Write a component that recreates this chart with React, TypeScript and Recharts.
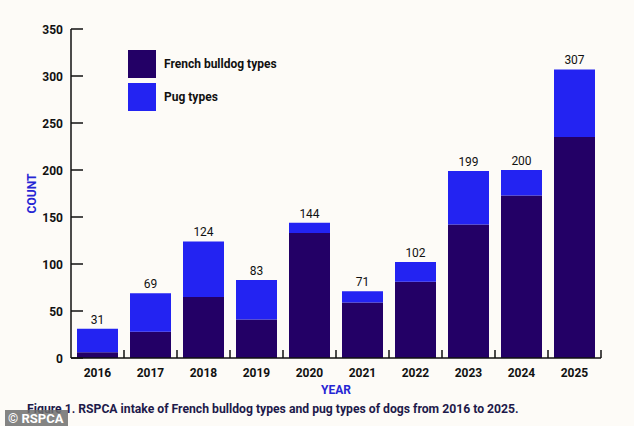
import { BarChart, Bar, XAxis, YAxis, LabelList } from 'recharts';

// Values (stack heights estimated, totals from labels)
const YEARS = ['2016', '2017', '2018', '2019', '2020', '2021', '2022', '2023', '2024', '2025'];
const FRENCH_BULLDOG = [6, 28, 65, 41, 133, 59, 81, 142, 173, 235];
const PUG = [25, 41, 59, 42, 11, 12, 21, 57, 27, 72];
const TOTALS = [31, 69, 124, 83, 144, 71, 102, 199, 200, 307];
const Y_TICKS = [0, 50, 100, 150, 200, 250, 300, 350];
const SERIES_NAMES = ['French bulldog types', 'Pug types'];

const DARK = '#230066';
const BLUE = '#2323f2';
const LABEL_BLUE = '#2626d4';
const BG = '#fdfbf7';
const FONT = 'Roboto, "Noto Sans", sans-serif';

const BAND = 53; // width of one category band in px

const chartData = YEARS.map((year, i) => ({
  year,
  french: FRENCH_BULLDOG[i],
  pug: PUG[i],
  total: TOTALS[i],
}));

const YTick = ({ x, y, payload }: any) => (
  <g>
    <text x={x} y={y} dy={4.5} textAnchor="end" fontSize={12} fontWeight={700} fill="#111" fontFamily={FONT}>
      {payload.value}
    </text>
    <line x1={x + 8} x2={x + 20} y1={y} y2={y} stroke="#111" strokeWidth={1.5} />
  </g>
);

const XTick = ({ x, y, payload }: any) => (
  <g>
    <text x={x} y={y + 18.5} textAnchor="middle" fontSize={12} fontWeight={700} fill="#111" fontFamily={FONT}>
      {payload.value}
    </text>
    <line x1={x + BAND / 2} x2={x + BAND / 2} y1={y - 8} y2={y} stroke="#111" strokeWidth={1.5} />
  </g>
);

// legend drawn outside the chart so it doesn't eat into the plot area
const LegendBox = () => (
  <div
    style={{
      position: 'absolute',
      left: 128,
      top: 50,
      fontFamily: FONT,
      fontSize: 12,
      fontWeight: 700,
      color: '#111',
    }}
  >
    {[DARK, BLUE].map((color, i) => (
      <div key={color} style={{ display: 'flex', alignItems: 'center', marginBottom: 5 }}>
        <div style={{ width: 28, height: 28, background: color, marginRight: 8 }} />
        <span>{SERIES_NAMES[i]}</span>
      </div>
    ))}
  </div>
);

export default function App() {
  return (
    <div style={{ position: 'absolute', left: 0, top: 0, width: 634, height: 426, background: BG, overflow: 'hidden' }}>
      <BarChart
        width={634}
        height={426}
        data={chartData}
        margin={{ top: 29, right: 33, left: 0, bottom: 0 }}
        barSize={41}
      >
        <XAxis
          dataKey="year"
          height={68}
          tickLine={false}
          tickSize={0}
          tickMargin={0}
          axisLine={{ stroke: '#111', strokeWidth: 1.5 }}
          tick={<XTick />}
          interval={0}
          label={{ value: 'YEAR', position: 'center', dy: -2, fill: LABEL_BLUE, fontSize: 12, fontWeight: 700, fontFamily: FONT }}
        />
        <YAxis
          width={71}
          domain={[0, 350]}
          ticks={Y_TICKS}
          tickLine={false}
          tickSize={0}
          tickMargin={8}
          axisLine={{ stroke: '#111', strokeWidth: 1.5 }}
          tick={<YTick />}
          label={{ value: 'COUNT', angle: -90, position: 'center', dx: -3.5, fill: LABEL_BLUE, fontSize: 12, fontWeight: 700, fontFamily: FONT }}
        />
        <Bar dataKey="french" name={SERIES_NAMES[0]} stackId="a" fill={DARK} isAnimationActive={false} />
        <Bar dataKey="pug" name={SERIES_NAMES[1]} stackId="a" fill={BLUE} isAnimationActive={false}>
          <LabelList dataKey="total" position="top" offset={5} fill="#111" fontSize={12} fontFamily={FONT} />
        </Bar>
      </BarChart>
      <LegendBox />
      <div
        style={{
          position: 'absolute',
          left: 27,
          top: 402,
          fontFamily: FONT,
          fontSize: 12.2,
          fontWeight: 700,
          color: '#1d1a4a',
          whiteSpace: 'nowrap',
        }}
      >
        Figure 1. RSPCA intake of French bulldog types and pug types of dogs from 2016 to 2025.
      </div>
      <div
        style={{
          position: 'absolute',
          left: 5,
          top: 410,
          width: 63,
          height: 16,
          background: 'rgba(110,110,110,0.85)',
          color: '#fff',
          fontFamily: FONT,
          fontSize: 13,
          fontWeight: 700,
          lineHeight: '17px',
          paddingLeft: 3,
          boxSizing: 'border-box',
        }}
      >
        © RSPCA
      </div>
    </div>
  );
}
